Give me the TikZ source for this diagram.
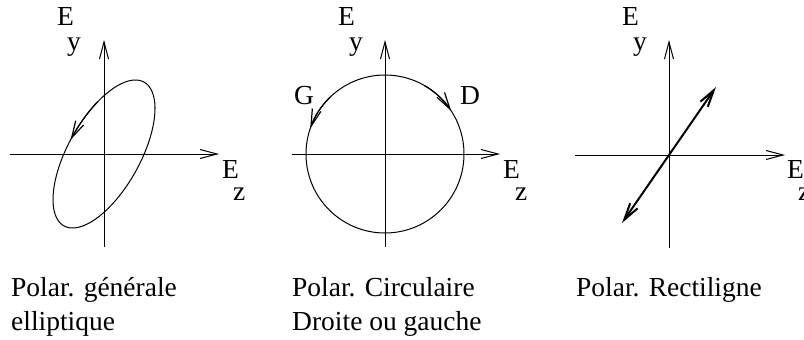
\documentclass[tikz,border=0pt]{standalone}
\usepackage{fontspec}
\setmainfont{Liberation Serif}
\usetikzlibrary{arrows.meta}
\tikzset{
  barb/.style={-{Straight Barb[length=17pt,width=9pt]}},
  dbarb/.style={{Straight Barb[length=17pt,width=9pt]}-{Straight Barb[length=17pt,width=9pt]}},
  axis/.style={line width=1pt, barb},
  curve/.style={line width=1pt},
  lbl/.style={anchor=base west, inner sep=0pt, font=\fontsize{27.5}{33}\selectfont},
}
\begin{document}
\begin{tikzpicture}[x=1pt,y=-1pt]
\useasboundingbox (0,0) rectangle (804,340);
% ---------- panel 1 : elliptic ----------
\coordinate (o1) at (104,154);
\coordinate (t1) at (104,40);  \coordinate (b1) at (104,247);
\coordinate (l1) at (10,154);  \coordinate (r1) at (219,154);
\draw[axis] (b1) -- (t1);
\draw[axis] (l1) -- (r1);
\draw[curve, shift={(o1)}] plot[domain=0:360,samples=120,smooth] ({51*cos(\x)},{-74*cos(\x+52)}) -- cycle;
\draw[line width=1.2pt, barb, shift={(o1)}] plot[domain=263:229,samples=20,smooth] ({51*cos(\x)},{-74*cos(\x+52)});
\node[lbl] (E1) at (57,25) {E};
\node[lbl] (y1) at (67,50) {y};
\node[lbl] (Ez1) at (222,178) {E};
\node[lbl] (z1) at (233,200) {z};
% ---------- panel 2 : circular ----------
\coordinate (o2) at (385,154);
\coordinate (t2) at (385,40);  \coordinate (b2) at (385,247);
\coordinate (l2) at (292,154); \coordinate (r2) at (500,154);
\draw[axis] (b2) -- (t2);
\draw[axis] (l2) -- (r2);
\draw[curve] (o2) circle[radius=79];
\draw[line width=1.2pt, barb] ([shift={(-60:79)}]o2) arc[start angle=-60,end angle=-33,radius=79];
\draw[line width=1.2pt, barb] ([shift={(-134:79)}]o2) arc[start angle=-134,end angle=-161,radius=79];
\node[lbl] (G) at (294,104) {G};
\node[lbl] (D) at (460,104) {D};
\node[lbl] (E2) at (338,25) {E};
\node[lbl] (y2) at (349,50) {y};
\node[lbl] (Ez2) at (503,178) {E};
\node[lbl] (z2) at (515,200) {z};
% ---------- panel 3 : linear ----------
\coordinate (o3) at (669,155);
\coordinate (t3) at (669,40);  \coordinate (b3) at (669,248);
\coordinate (l3) at (575,155); \coordinate (r3) at (785,155);
\coordinate (pa) at (622,223); \coordinate (pb) at (716,87);
\draw[axis] (b3) -- (t3);
\draw[axis] (l3) -- (r3);
\draw[line width=2pt, dbarb] (pa) -- (pb);
\node[lbl] (E3) at (622,25) {E};
\node[lbl] (y3) at (633,50) {y};
\node[lbl] (Ez3) at (787,178) {E};
\node[lbl] (z3) at (798,200) {z};
% ---------- captions ----------
\node[lbl] (c1a) at (11,296) {Polar. générale};
\node[lbl] (c1b) at (11,330) {elliptique};
\node[lbl] (c2a) at (292,296) {Polar. Circulaire};
\node[lbl] (c2b) at (292,330) {Droite ou gauche};
\node[lbl] (c3a) at (576,296) {Polar. Rectiligne};
\end{tikzpicture}
\end{document}
